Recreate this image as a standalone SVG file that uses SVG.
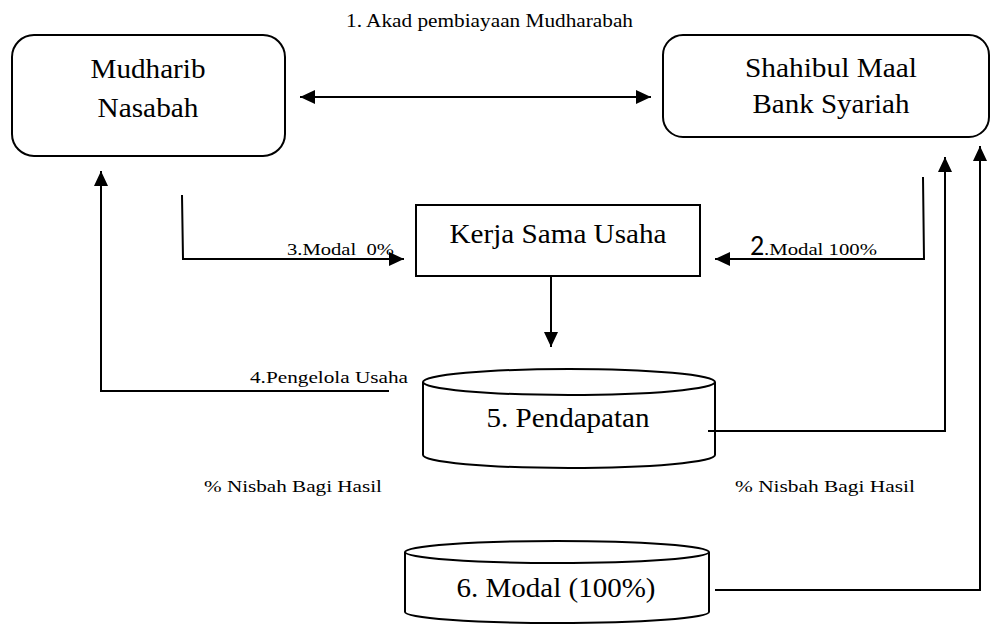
<svg xmlns="http://www.w3.org/2000/svg" width="991" height="624" viewBox="0 0 991 624">
<style>
.s{fill:#fff;stroke:#000;stroke-width:2}
.l{fill:none;stroke:#000;stroke-width:2}
.big{font-size:27px;text-anchor:middle}
.sm{font-size:17px}
</style>
<defs>
<marker id="ah" viewBox="0 0 15 14" refX="15" refY="7" markerWidth="15" markerHeight="14" markerUnits="userSpaceOnUse" orient="auto-start-reverse">
<path d="M0,0 L15,7 L0,14 Z" fill="#000"/>
</marker>
</defs>
<rect width="991" height="624" fill="#fff"/>

<g font-family="Liberation Serif, Times New Roman, serif" fill="#000">
<g id="mudharib">
<rect class="s" x="12" y="35" width="273" height="121" rx="22"/>
<text class="big" x="148" y="78" textLength="115" lengthAdjust="spacingAndGlyphs">Mudharib</text>
<text class="big" x="148" y="117" textLength="101" lengthAdjust="spacingAndGlyphs">Nasabah</text>
</g>

<g id="shahibul">
<rect class="s" x="663" y="35" width="326" height="102" rx="20"/>
<text class="big" x="831" y="77" textLength="172" lengthAdjust="spacingAndGlyphs">Shahibul Maal</text>
<text class="big" x="831" y="113" textLength="157" lengthAdjust="spacingAndGlyphs">Bank Syariah</text>
</g>

<g id="kerja">
<rect class="s" x="416" y="205" width="284" height="71"/>
<text class="big" x="558" y="243" textLength="217" lengthAdjust="spacingAndGlyphs">Kerja Sama Usaha</text>
</g>

<g id="pendapatan">
<path class="s" d="M423,382 L423,455 A146,13 0 0 0 715,455 L715,382"/>
<ellipse class="s" cx="569" cy="382" rx="146" ry="13"/>
<text class="big" x="568" y="427" textLength="163" lengthAdjust="spacingAndGlyphs">5. Pendapatan</text>
</g>

<g id="modal">
<path class="s" d="M405,552 L405,612 A152,11 0 0 0 709,612 L709,552"/>
<ellipse class="s" cx="557" cy="552" rx="152" ry="11"/>
<text class="big" x="556" y="597" textLength="199" lengthAdjust="spacingAndGlyphs">6. Modal (100%)</text>
</g>

<g id="connectors">
<line class="l" x1="300" y1="97" x2="651" y2="97" marker-start="url(#ah)" marker-end="url(#ah)"/>
<polyline class="l" points="182,195 183,259 404,259" marker-end="url(#ah)"/>
<polyline class="l" points="923,177 924,259 715,259" marker-end="url(#ah)"/>
<line class="l" x1="551" y1="276" x2="551" y2="347" marker-end="url(#ah)"/>
<polyline class="l" points="389,391 101,391 101,171" marker-end="url(#ah)"/>
<polyline class="l" points="708,431 945,431 945,157" marker-end="url(#ah)"/>
<polyline class="l" points="715,590 980,590 980,146" marker-end="url(#ah)"/>
</g>

<g id="labels">
<text x="346" y="27" font-size="19" textLength="287" lengthAdjust="spacingAndGlyphs">1. Akad pembiayaan Mudharabah</text>
<text class="sm" x="287" y="255" textLength="107" lengthAdjust="spacingAndGlyphs" xml:space="preserve">3.Modal  0%</text>
<text x="750" y="255" font-family="Carlito, Liberation Sans, sans-serif" font-size="28">2</text>
<text class="sm" x="764" y="255" textLength="113" lengthAdjust="spacingAndGlyphs">.Modal 100%</text>
<text class="sm" x="250" y="383" textLength="158" lengthAdjust="spacingAndGlyphs">4.Pengelola Usaha</text>
<text class="sm" x="204" y="492" textLength="178" lengthAdjust="spacingAndGlyphs">% Nisbah Bagi Hasil</text>
<text class="sm" x="735" y="492" textLength="180" lengthAdjust="spacingAndGlyphs">% Nisbah Bagi Hasil</text>
</g>
</g>
</svg>
